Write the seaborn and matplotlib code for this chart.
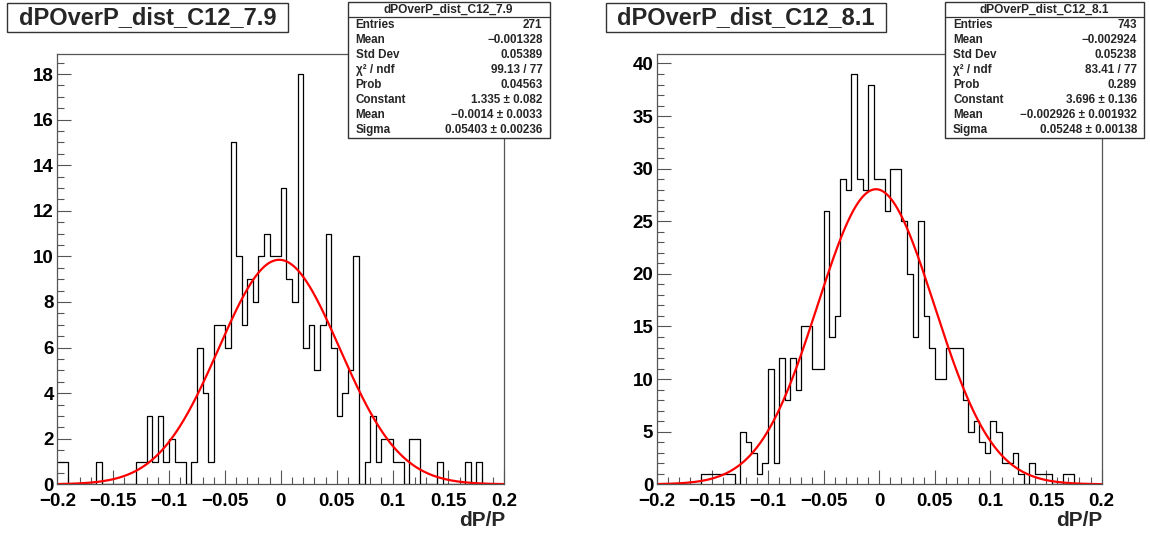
import numpy as np
import pandas as pd
import matplotlib
matplotlib.use("Agg")
import matplotlib.pyplot as plt
from matplotlib.patches import Rectangle
from matplotlib.ticker import MultipleLocator
import seaborn as sns

# ---------------- data ----------------
n_bins = 80
x_low, x_high = -0.2, 0.2

counts_79 = [1, 1, 0, 0, 0, 0, 0, 1, 0, 0,
             0, 0, 0, 0, 1, 1, 3, 1, 3, 1,
             2, 1, 1, 0, 1, 6, 4, 1, 7, 7,
             6, 15, 10, 7, 9, 8, 10, 11, 10, 10,
             13, 9, 8, 18, 6, 7, 5, 7, 11, 6,
             3, 4, 5, 10, 0, 1, 3, 1, 2, 2,
             1, 1, 0, 2, 2, 0, 0, 0, 1, 0,
             0, 0, 0, 1, 0, 1, 0, 0, 0, 0]

counts_81 = [0, 0, 0, 0, 0, 0, 0, 0, 1, 1,
             1, 1, 1, 1, 0, 5, 4, 3, 1, 2,
             11, 2, 12, 8, 12, 9, 15, 15, 11, 11,
             26, 14, 16, 29, 28, 39, 29, 28, 38, 29,
             29, 26, 30, 30, 25, 20, 14, 25, 16, 13,
             10, 10, 13, 13, 13, 8, 5, 6, 4, 3,
             6, 5, 2, 2, 3, 1, 0, 2, 1, 1,
             1, 0, 0, 1, 1, 0, 0, 0, 0, 0]

titles = ["dPOverP_dist_C12_7.9", "dPOverP_dist_C12_8.1"]
fit_peak = [9.85, 28.05]
fit_mean = [-0.0014, -0.002926]
fit_sigma = [0.05403, 0.05248]
y_max = [18.9, 40.95]
y_major = [2, 5]
y_minor = [0.5, 1]

stats_labels = ["Entries", "Mean", "Std Dev", "χ² / ndf", "Prob", "Constant", "Mean", "Sigma"]
stats_79 = ["271", "−0.001328", "0.05389", "99.13 / 77", "0.04563",
            "1.335 ± 0.082", "−0.0014 ± 0.0033", "0.05403 ± 0.00236"]
stats_81 = ["743", "−0.002924", "0.05238", "83.41 / 77", "0.289",
            "3.696 ± 0.136", "−0.002926 ± 0.001932", "0.05248 ± 0.00138"]

x_ticks = [-0.2, -0.15, -0.1, -0.05, 0.0, 0.05, 0.1, 0.15, 0.2]
x_tick_labels = ["−0.2", "−0.15", "−0.1", "−0.05", "0", "0.05", "0.1", "0.15", "0.2"]
x_title = "dP/P"

# ---------------- style ----------------
sns.set_theme(style="white")
plt.rcParams["font.family"] = ["Liberation Sans", "DejaVu Sans"]
plt.rcParams["axes.unicode_minus"] = True

W, H = 1150, 535
fig = plt.figure(figsize=(W / 100, H / 100), dpi=100)
fig.patch.set_facecolor("white")


def fx(px):
    return px / W


def fy(py):
    return 1 - py / H


axes_px = [(57.3, 504.3), (656.7, 1101.7)]
frame_top, frame_bottom = 53.5, 484.3
title_px = [(7, 288), (606, 886)]
stats_px = [(347.5, 549.5), (945, 1144)]
frame_col = "#555555"

edges = np.linspace(x_low, x_high, n_bins + 1)
centers = 0.5 * (edges[:-1] + edges[1:])

for k, counts in enumerate([counts_79, counts_81]):
    l, r = axes_px[k]
    ax = fig.add_axes([fx(l), fy(frame_bottom), fx(r - l), (frame_bottom - frame_top) / H])
    df = pd.DataFrame({"x": centers, "w": counts})
    sns.histplot(data=df, x="x", weights="w", bins=n_bins, binrange=(x_low, x_high),
                 element="step", fill=False, color="black", linewidth=0.9, ax=ax)
    xs = np.linspace(x_low, x_high, 400)
    ys = fit_peak[k] * np.exp(-0.5 * ((xs - fit_mean[k]) / fit_sigma[k]) ** 2)
    sns.lineplot(x=xs, y=ys, color="#ff0000", linewidth=1.6, ax=ax)
    ax.set_xlim(x_low, x_high)
    ax.set_ylim(0, y_max[k])
    ax.set_xlabel("")
    ax.set_ylabel("")
    ax.set_xticks(x_ticks)
    ax.set_xticklabels(x_tick_labels, fontsize=13.5, fontweight="bold")
    ax.xaxis.set_minor_locator(MultipleLocator(0.01))
    ax.yaxis.set_major_locator(MultipleLocator(y_major[k]))
    ax.yaxis.set_minor_locator(MultipleLocator(y_minor[k]))
    for lab in ax.get_yticklabels():
        lab.set_fontsize(13.5)
        lab.set_fontweight("bold")
    ax.tick_params(axis="both", which="major", direction="in", length=10, width=0.8,
                   color=frame_col, labelcolor="black")
    ax.tick_params(axis="both", which="minor", direction="in", length=5, width=0.8,
                   color=frame_col)
    ax.tick_params(axis="y", which="both", left=True, right=False, pad=2.5)
    ax.tick_params(axis="x", which="both", bottom=True, top=False, pad=6.5)
    for s in ax.spines.values():
        s.set_color(frame_col)
        s.set_linewidth(0.9)
        s.set_visible(True)
    ax.grid(False)
    ax.set_facecolor("white")
    # x-axis title
    fig.text(fx(r + 1), fy(521), x_title, ha="right", va="center",
             fontsize=15, fontweight="bold")

    # title box
    tl, tr = title_px[k]
    fig.patches.append(Rectangle((fx(tl), fy(32)), fx(tr - tl), 29 / H,
                                 transform=fig.transFigure, fill=True, facecolor="white",
                                 edgecolor="#333333", linewidth=1.0))
    fig.text(fx((tl + tr) / 2), fy(18), titles[k], ha="center", va="center",
             fontsize=17, fontweight="bold")

    # stats box
    sl, sr = stats_px[k]
    s_top, s_bot = 1.5, 137.5
    box = Rectangle((fx(sl), fy(s_bot)), fx(sr - sl), (s_bot - s_top) / H,
                    transform=fig.transFigure, facecolor="white", edgecolor="#333333",
                    linewidth=1.0, zorder=10)
    fig.add_artist(box)
    fig.add_artist(plt.Line2D([fx(sl), fx(sr)], [fy(17), fy(17)], transform=fig.transFigure,
                              color="#333333", linewidth=0.9, zorder=11))
    fig.text(fx((sl + sr) / 2), fy(9.5), titles[k], ha="center", va="center",
             fontsize=8.6, fontweight="bold", zorder=12)
    vals = stats_79 if k == 0 else stats_81
    for i, (lab, val) in enumerate(zip(stats_labels, vals)):
        yy = fy(25.5 + i * 14.9)
        fig.text(fx(sl + 8), yy, lab, ha="left", va="center", fontsize=8.4,
                 fontweight="bold", zorder=12)
        fig.text(fx(sr - 7), yy, val, ha="right", va="center", fontsize=8.4,
                 fontweight="bold", zorder=12)

fig.savefig("out.png", dpi=100, facecolor="white")
